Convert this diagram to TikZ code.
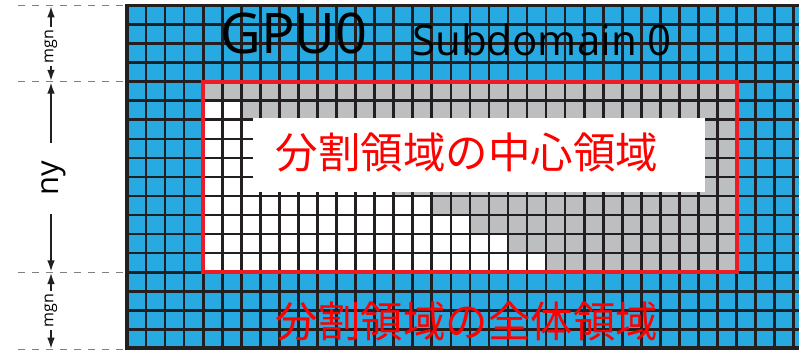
\documentclass[tikz,border=0pt]{standalone}
\usepackage{fontspec}
\usetikzlibrary{arrows.meta}
\newfontfamily\latinfont{Open Sans}
\newfontfamily\cjkfont{Noto Sans CJK JP}
\definecolor{gpuBlue}{RGB}{39,170,225}
\definecolor{coreGray}{RGB}{188,190,192}
\definecolor{gridBlack}{RGB}{35,31,32}
\definecolor{frameRed}{RGB}{237,28,36}
\tikzstyle{gridline}=[draw=gridBlack, line width=1.9pt]
\tikzstyle{outer}=[draw=gridBlack, line width=2.8pt, line join=miter]
\tikzstyle{region}=[draw=frameRed, line width=2.8pt]
\tikzstyle{guide}=[draw=gray, line width=0.7pt, dash pattern=on 5pt off 5pt]
\tikzstyle{dimline}=[draw=gridBlack, line width=1.7pt, -{Latex[length=8.5pt,width=5.5pt]}]
\tikzstyle{dimtext}=[rotate=90, inner sep=2pt, font=\latinfont\fontsize{11.4}{12}\selectfont]
\tikzstyle{jplabel}=[text=red, inner sep=0pt, font=\cjkfont\fontsize{30.2}{32}\selectfont]

\begin{document}
\begin{tikzpicture}[x=0.025cm, y=-0.025cm]
  \useasboundingbox (0,0) rectangle (799,351);
  \def\cellsz{19.05}

  % subdomain grid
  \begin{scope}
    \clip (0,0) rectangle (799,351);
    \fill[gpuBlue] (127,5.5) rectangle (830,348.4);
    \fill[coreGray] (203.2,81.7) rectangle (736.6,272.2);
    \foreach \r in {1,...,9}
      \fill[white] (203.2,{81.7+\r*\cellsz}) rectangle ++({2*\r*\cellsz},\cellsz);
    \foreach \i in {1,...,36}
      \draw[gridline] ({127+\i*\cellsz},5.5) -- ({127+\i*\cellsz},348.4);
    \foreach \j in {1,...,17}
      \draw[gridline] (127,{5.5+\j*\cellsz}) -- (830,{5.5+\j*\cellsz});
    \draw[outer] (830,5.5) -- (127,5.5) -- (127,348.4) -- (830,348.4);
  \end{scope}

  \draw[region] (203.2,81.7) rectangle (736.6,272.2);
  \fill[white] (253,118) rectangle (705,192);

  \node[jplabel] (core) at (467,152.5) {分割領域の中心領域};
  \node[jplabel] (whole) at (467,321) {分割領域の全体領域};
  \node[anchor=base, inner sep=0pt, font=\latinfont\fontsize{39.8}{42}\selectfont] (gpu) at (294,53) {GPU0};
  \node[anchor=base, inner sep=0pt, font=\latinfont\fontsize{29.9}{32}\selectfont] (sub) at (542,55) {Subdomain 0};

  % margins and ny
  \coordinate (d0) at (18,5.5);
  \coordinate (d1) at (18,81.7);
  \coordinate (d2) at (18,272.2);
  \coordinate (d3) at (18,349.5);
  \coordinate (e0) at (127,5.5);
  \coordinate (e1) at (127,81.7);
  \coordinate (e2) at (127,272.2);
  \coordinate (e3) at (127,349.5);
  \foreach \k in {0,...,3}
    \draw[guide] (d\k) -- (e\k);

  \coordinate (m0) at (51,5.5);
  \coordinate (m1) at (51,81.7);
  \coordinate (m2) at (51,272.2);
  \coordinate (m3) at (51,349.5);

  \node[dimtext] (mgnA) at (51,46.5) {mgn};
  \node[dimtext] (mgnB) at (51,310.5) {mgn};
  \node[dimtext, inner sep=13pt, font=\latinfont\fontsize{22}{24}\selectfont] (ny) at (54,178.5) {ny};

  \draw[dimline] (mgnA) -- (m0);
  \draw[dimline] (mgnA) -- (m1);
  \draw[dimline] (m1 |- ny.east) -- (m1);
  \draw[dimline] (m2 |- ny.west) -- (m2);
  \draw[dimline] (mgnB) -- (m2);
  \draw[dimline] (mgnB) -- (m3);
\end{tikzpicture}
\end{document}
